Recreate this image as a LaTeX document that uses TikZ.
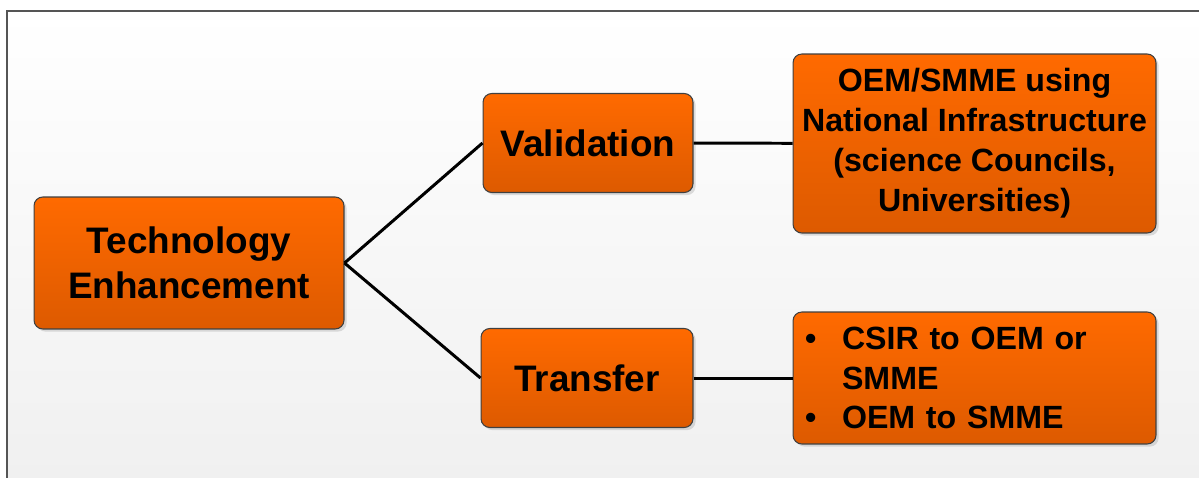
\documentclass[tikz,border=0pt]{standalone}
\usepackage{fontspec}
\setmainfont{Liberation Sans}
\usetikzlibrary{shadows}
\definecolor{boxtop}{HTML}{FF6A00}
\definecolor{boxbot}{HTML}{DD5A00}
\definecolor{framegray}{HTML}{555555}
\tikzset{
  box/.style={draw=black!75, line width=0.6pt, rounded corners=5pt,
    top color=boxtop, bottom color=boxbot, align=center,
    font=\bfseries, inner sep=0pt,
    drop shadow={opacity=0.25, shadow xshift=1.5pt, shadow yshift=-1.5pt}},
  link/.style={line width=1.7pt}
}
\begin{document}
\begin{tikzpicture}[x=0.02cm, y=-0.02cm]
\useasboundingbox (0,0) rectangle (1199,477);
\shade[top color=white, bottom color=black!6] (7,11) rectangle (1210,490);
\draw[framegray, line width=1.2pt] (7,490) -- (7,11) -- (1210,11);
\node[box, minimum width=6.2cm, minimum height=2.64cm,
  font=\fontsize{21}{25.5}\bfseries] (tech) at (189,263) {Technology\\Enhancement};
\node[box, minimum width=4.2cm, minimum height=1.98cm,
  font=\fontsize{21}{25.5}\bfseries] (valid) at (588,143) {Validation};
\node[box, minimum width=4.24cm, minimum height=1.98cm,
  font=\fontsize{21}{25.5}\bfseries] (trans) at (587,378) {Transfer};
\node[box, minimum width=7.26cm, minimum height=3.58cm,
  font=\fontsize{18.3}{22.7}\bfseries] (infra) at (974.5,143.5)
  {OEM/SMME using\\National Infrastructure\\(science Councils,\\Universities)};
\node[box, minimum width=7.26cm, minimum height=2.64cm, inner xsep=0.24cm,
  text width=6.78cm, align=left,
  font=\fontsize{18.3}{22.7}\bfseries] (list) at (974.5,378)
  {\makebox[0.74cm][l]{\textbullet}CSIR to OEM or\\\hspace*{0.74cm}SMME\\\makebox[0.74cm][l]{\textbullet}OEM to SMME};
\draw [link] (tech.east) -- (valid.west);
\draw [link] (tech.east) -- (trans.west);
\draw [link] (valid) -- (infra);
\draw [link] (trans) -- (list);
\end{tikzpicture}
\end{document}
